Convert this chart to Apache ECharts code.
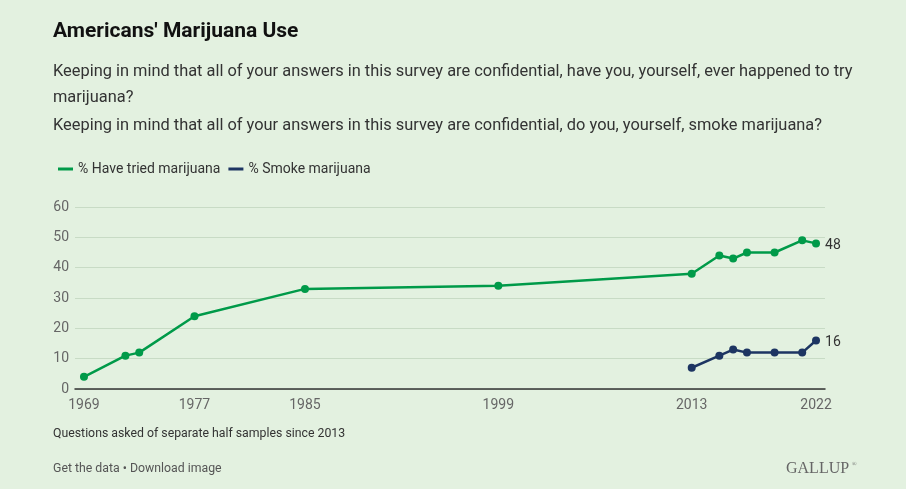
<!DOCTYPE html>
<html>
<head>
<meta charset="utf-8">
<script src="https://cdn.jsdelivr.net/npm/echarts@6/dist/echarts.min.js"></script>
<style>
html,body{margin:0;padding:0;background:#e3f1e0;}
#chart{width:906px;height:489px;}
</style>
</head>
<body>
<div id="chart"></div>
<script>
const triedYears = [1969, 1972, 1973, 1977, 1985, 1999, 2013, 2015, 2016, 2017, 2019, 2021, 2022];
const triedValues = [4, 11, 12, 24, 33, 34, 38, 44, 43, 45, 45, 49, 48];
const smokeYears = [2013, 2015, 2016, 2017, 2019, 2021, 2022];
const smokeValues = [7, 11, 13, 12, 12, 12, 16];
const xTickYears = [1969, 1977, 1985, 1999, 2013, 2022];
const seriesNames = ['% Have tried marijuana', '% Smoke marijuana'];

const GREEN = '#009a49';
const NAVY = '#1d3562';
const FONT = 'Roboto, "Liberation Sans", Arial, sans-serif';

const chart = echarts.init(document.getElementById('chart'), null, {renderer: 'canvas'});

function pairs(xs, ys) { return xs.map((x, i) => [x, ys[i]]); }

const option = {
  backgroundColor: '#e3f1e0',
  textStyle: {fontFamily: FONT},
  animation: false,
  graphic: [
    {type: 'text', left: 53, top: 21, style: {text: "Americans' Marijuana Use", fontFamily: FONT, fontSize: 21, fontWeight: 'bold', fill: '#111'}},
    {type: 'text', left: 53, top: 64, style: {text: 'Keeping in mind that all of your answers in this survey are confidential, have you, yourself, ever happened to try', fontFamily: FONT, fontSize: 16.4, fill: '#333'}},
    {type: 'text', left: 53, top: 90, style: {text: 'marijuana?', fontFamily: FONT, fontSize: 16.4, fill: '#333'}},
    {type: 'text', left: 53, top: 118, style: {text: 'Keeping in mind that all of your answers in this survey are confidential, do you, yourself, smoke marijuana?', fontFamily: FONT, fontSize: 16.4, fill: '#333'}},
    {type: 'text', left: 53, top: 428, style: {text: 'Questions asked of separate half samples since 2013', fontFamily: FONT, fontSize: 12.3, fill: '#333'}},
    {type: 'text', left: 53, top: 463, style: {text: 'Get the data \u2022 Download image', fontFamily: FONT, fontSize: 12.3, fill: '#555'}},
    {type: 'text', left: 786, top: 461, style: {text: 'GALLUP', fontFamily: '"Liberation Serif", "DejaVu Serif", serif', fontSize: 16, fill: '#666'}},
    {type: 'text', left: 852, top: 461, style: {text: '\u00ae', fontFamily: '"Liberation Serif", serif', fontSize: 6, fill: '#666'}}
  ],
  legend: {
    left: 53, top: 157,
    icon: 'rect', itemWidth: 15, itemHeight: 3, itemGap: 8,
    textStyle: {fontFamily: FONT, fontSize: 14, color: '#333'},
    data: seriesNames
  },
  grid: {left: 75, right: 81, top: 207, bottom: 100, containLabel: false},
  xAxis: {
    type: 'value', min: 1968.35, max: 2022.65,
    axisLine: {show: true, lineStyle: {color: '#333', width: 1.5}},
    axisTick: {show: false},
    splitLine: {show: false},
    axisLabel: {customValues: xTickYears, formatter: v => String(v), color: '#666', fontSize: 14, margin: 9, fontFamily: FONT}
  },
  yAxis: {
    type: 'value', min: 0, max: 60, interval: 10,
    axisLine: {show: false}, axisTick: {show: false},
    splitLine: {lineStyle: {color: '#c8dbc5', width: 1}},
    axisLabel: {color: '#666', fontSize: 14, margin: 6, fontFamily: FONT}
  },
  series: [
    {
      name: seriesNames[0], type: 'line', data: pairs(triedYears, triedValues),
      color: GREEN, lineStyle: {width: 2.5, color: GREEN},
      symbol: 'circle', symbolSize: 8, itemStyle: {color: GREEN},
      endLabel: {show: true, formatter: p => String(p.value[1]), color: '#333', fontSize: 14, distance: 9, offset: [0, 2], fontFamily: FONT}
    },
    {
      name: seriesNames[1], type: 'line', data: pairs(smokeYears, smokeValues),
      color: NAVY, lineStyle: {width: 2.5, color: NAVY},
      symbol: 'circle', symbolSize: 8, itemStyle: {color: NAVY},
      endLabel: {show: true, formatter: p => String(p.value[1]), color: '#333', fontSize: 14, distance: 9, offset: [0, 2], fontFamily: FONT}
    }
  ]
};
chart.setOption(option);
</script>
</body>
</html>
